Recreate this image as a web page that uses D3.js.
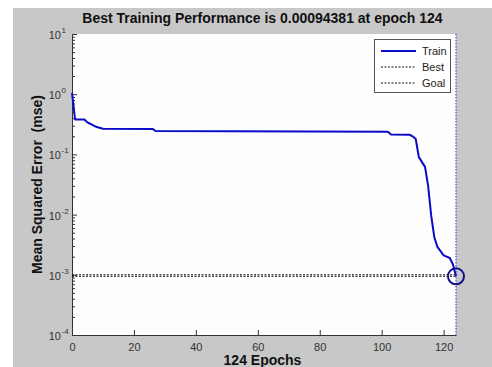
<!DOCTYPE html>
<html>
<head>
<meta charset="utf-8">
<script src="https://cdn.jsdelivr.net/npm/d3@7"></script>
<style>
  html, body { margin: 0; padding: 0; background: #ffffff; }
  svg { display: block; font-family: "Liberation Sans", Arial, sans-serif; }
</style>
</head>
<body>
<svg id="chart" width="492" height="367"></svg>
<script>
// ---- data ----
const epochs = [0, 1, 4, 5, 6, 7, 8, 10, 26, 27, 102, 103, 109, 110, 111, 112, 114, 115, 116, 117, 118, 120, 122, 123, 124];
const trainPerf = [1.05, 0.38, 0.38, 0.34, 0.32, 0.30, 0.285, 0.267, 0.265, 0.245, 0.238, 0.215, 0.212, 0.20, 0.18, 0.09, 0.062, 0.03, 0.0095, 0.0042, 0.0029, 0.0021, 0.0019, 0.0015, 0.00094381];
const bestEpoch = 124;
const bestPerf = 0.00094381;
const goalPerf = 0.001;
const xTicks = [0, 20, 40, 60, 80, 100, 120];
const yTicks = [1e-4, 1e-3, 1e-2, 1e-1, 1, 10];
const legendLabels = ["Train", "Best", "Goal"];
const titleText = "Best Training Performance is 0.00094381 at epoch 124";
const xLabelText = "124 Epochs";
const yLabelText = "Mean Squared Error  (mse)";

// ---- layout ----
const svg = d3.select("#chart");
const plot = { left: 72, top: 34, right: 456, bottom: 335 };

svg.append("rect").attr("x", 13).attr("y", 8).attr("width", 492 - 13).attr("height", 367 - 8).attr("fill", "#c8c8c8");
svg.append("rect").attr("x", plot.left).attr("y", plot.top)
  .attr("width", plot.right - plot.left).attr("height", plot.bottom - plot.top).attr("fill", "#fefefe");

const x = d3.scaleLinear().domain([0, 124]).range([plot.left, plot.right]);
const y = d3.scaleLog().domain([1e-4, 10]).range([plot.bottom, plot.top]);

// minor y ticks
const minor = [];
for (let e = -4; e < 1; e++) for (let m = 2; m <= 9; m++) minor.push(m * Math.pow(10, e));

const yMinorAxis = svg.append("g").attr("transform", `translate(${plot.left},0)`)
  .call(d3.axisLeft(y).tickValues(minor).tickSize(-3).tickFormat(""));
yMinorAxis.select(".domain").remove();
yMinorAxis.selectAll("line").attr("stroke", "#333");

const yAxis = svg.append("g").attr("transform", `translate(${plot.left},0)`)
  .call(d3.axisLeft(y).tickValues(yTicks).tickSizeInner(-5).tickSizeOuter(0).tickFormat(""));
yAxis.selectAll("line").attr("stroke", "#333");
yAxis.select(".domain").attr("stroke", "#333");

const xAxis = svg.append("g").attr("transform", `translate(0,${plot.bottom})`)
  .call(d3.axisBottom(x).tickValues(xTicks).tickSizeInner(-5).tickSizeOuter(0).tickPadding(8));
xAxis.selectAll("line").attr("stroke", "#333");
xAxis.select(".domain").attr("stroke", "#333");
xAxis.selectAll("text").attr("font-size", 11).attr("fill", "#333").attr("font-family", "Liberation Sans, Arial, sans-serif");

// y tick labels with superscript exponents
const yLab = svg.append("g");
yTicks.forEach(v => {
  const yy = y(v);
  yLab.append("text").attr("x", 61).attr("y", yy + 5).attr("text-anchor", "end")
    .attr("font-size", 11).attr("fill", "#333").text("10");
  yLab.append("text").attr("x", 61.5).attr("y", yy - 1).attr("text-anchor", "start")
    .attr("font-size", 8).attr("fill", "#333").text(String(Math.round(Math.log10(v))));
});

// goal & best horizontal lines
svg.append("line").attr("x1", plot.left).attr("x2", plot.right)
  .attr("y1", y(goalPerf)).attr("y2", y(goalPerf))
  .attr("stroke", "#111").attr("stroke-width", 1).attr("stroke-dasharray", "2,1.5");
svg.append("line").attr("x1", plot.left).attr("x2", plot.right)
  .attr("y1", y(bestPerf)).attr("y2", y(bestPerf))
  .attr("stroke", "#111").attr("stroke-width", 1).attr("stroke-dasharray", "2,1.5");
// best vertical line
svg.append("line").attr("x1", x(bestEpoch)).attr("x2", x(bestEpoch))
  .attr("y1", plot.top).attr("y2", plot.bottom)
  .attr("stroke", "#5050b0").attr("stroke-width", 1.2).attr("stroke-dasharray", "1.5,1.5");

// train line
const line = d3.line().x((d, i) => x(epochs[i])).y(d => y(d));
svg.append("path").datum(trainPerf).attr("d", line)
  .attr("fill", "none").attr("stroke", "#0a0ac8").attr("stroke-width", 2).attr("stroke-linejoin", "round");

// best circle
svg.append("circle").attr("cx", x(bestEpoch)).attr("cy", y(bestPerf)).attr("r", 8)
  .attr("fill", "none").attr("stroke", "#101088").attr("stroke-width", 2);

// legend
const lg = svg.append("g");
lg.append("rect").attr("x", 374.5).attr("y", 39.5).attr("width", 76).attr("height", 53)
  .attr("fill", "#ffffff").attr("stroke", "#555").attr("stroke-width", 1);
const legY = [51, 67, 83];
legendLabels.forEach((lab, i) => {
  const l = lg.append("line").attr("x1", 381).attr("x2", 416).attr("y1", legY[i]).attr("y2", legY[i]);
  if (i === 0) l.attr("stroke", "#0a0ac8").attr("stroke-width", 2);
  else l.attr("stroke", "#111").attr("stroke-width", 1).attr("stroke-dasharray", "2,1.5");
  lg.append("text").attr("x", 422).attr("y", legY[i] + 4).attr("font-size", 11).attr("fill", "#222").text(lab);
});

// title & labels
svg.append("text").attr("x", 262.5).attr("y", 23).attr("text-anchor", "middle")
  .attr("font-size", 14).attr("font-weight", "bold").attr("fill", "#111").text(titleText);
svg.append("text").attr("x", 262.5).attr("y", 365).attr("text-anchor", "middle")
  .attr("font-size", 14).attr("font-weight", "bold").attr("fill", "#111").text(xLabelText);
svg.append("text").attr("transform", `translate(42,184.5) rotate(-90)`).attr("text-anchor", "middle")
  .style("white-space", "pre")
  .attr("font-size", 14).attr("font-weight", "bold").attr("fill", "#111").text(yLabelText);
</script>
</body>
</html>
